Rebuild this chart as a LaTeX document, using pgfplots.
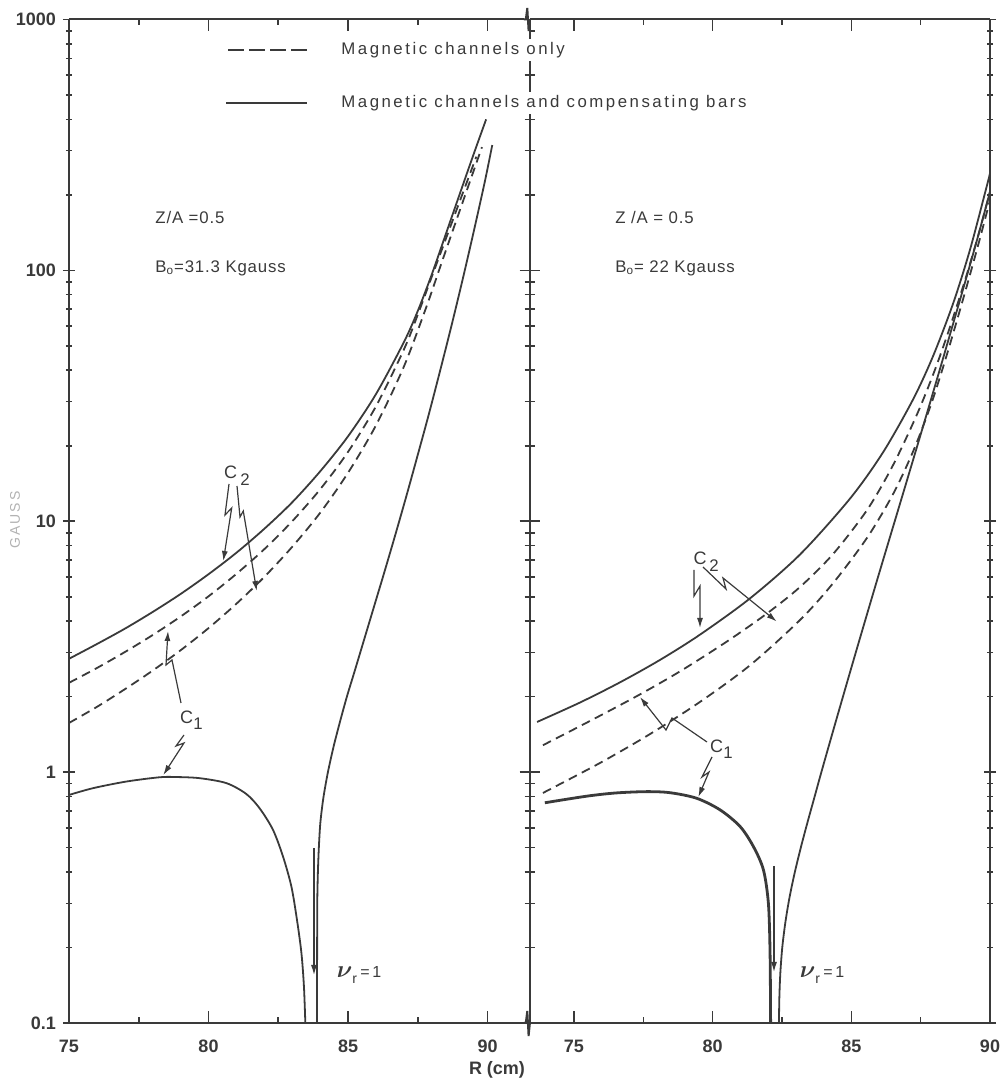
\documentclass[border=0pt]{standalone}
\usepackage{fontspec}
\setmainfont{Liberation Sans}
\newfontfamily\lsp[LetterSpace=15]{Liberation Sans}
\newfontfamily\lspb[LetterSpace=5]{Liberation Sans}
\usepackage{amsmath}
\usepackage{pgfplots}
\pgfplotsset{compat=1.18}
\usetikzlibrary{arrows.meta}
\definecolor{ink}{HTML}{3A3A3A}
\pgfkeys{/pgf/number format/assume math mode=true}

\pgfplotsset{
 every axis/.append style={
  scale only axis, anchor=south west, height=501.75pt,
  ymode=log, ymin=0.1, ymax=1000,
  tick align=inside, major tick length=6pt, minor tick length=3pt,
  axis line style={draw=ink, line width=1pt},
  xtick={75,80,85,90}, minor xtick={77.5,82.5,87.5},
  ytick={0.1,1,10,100,1000},
  minor ytick={0.2,0.3,0.4,0.5,0.6,0.7,0.8,0.9,2,3,4,5,6,7,8,9,20,30,40,50,60,70,80,90,200,300,400,500,600,700,800,900},
  tick label style={font=\fontsize{9}{10}\selectfont\bfseries, text=ink},
  xticklabel style={yshift=-5pt},
  tick style={draw=ink, line width=0.8pt},
 },
 mycurve/.style={draw=ink, line width=0.9pt, smooth, tension=0.5, mark=none},
 mydcurve/.style={mycurve, dash pattern=on 4.5pt off 2.8pt},
}

\begin{document}
\begin{tikzpicture}
\path[use as bounding box] (0,0) rectangle (502pt,544pt);

% ---------------- left panel: B0 = 31.3 kG
\begin{axis}[at={(34.5pt,32.5pt)}, width=227.4pt,
  xmin=75, xmax=91.3, axis x line=box, axis y line=left,
  axis line style={-},
  yticklabels={0.1,1,10,100,1000}]
% C2, channels and compensating bars (solid)
\addplot[mycurve] coordinates {(75,2.83)(76,3.24)(77,3.73)(78,4.35)(79,5.13)(80,6.15)(81,7.49)(82,9.33)(83,11.9)(84,15.8)(85,21.8)(86,32.1)(87,51.7)(87.5,68.9)(88,96.2)(88.5,139)(89,201)(89.5,290)(89.95,400)};
% channels only (dashed)
\addplot[mydcurve] coordinates {(75,2.27)(76,2.60)(77,3.01)(78,3.52)(79,4.17)(80,5.02)(81,6.17)(82,7.74)(83,10.0)(84,13.4)(85,18.9)(86,28.7)(87,48.3)(87.5,66.6)(88,94.2)(88.5,133)(89,188)(89.6,284)};
\addplot[mydcurve] coordinates {(75,1.57)(76,1.82)(77,2.14)(78,2.54)(79,3.06)(80,3.75)(81,4.69)(82,6.00)(83,7.91)(84,10.8)(85,15.6)(86,24.1)(87,41.3)(87.8,71.1)(88.3,103)(88.8,149)(89.3,215)(89.8,310)};
% steep solid curve
\addplot[mycurve] coordinates {(83.89,0.1)(83.891,0.158)(83.895,0.251)(83.90,0.316)(83.92,0.398)(83.955,0.501)(84.01,0.631)(84.12,0.794)(84.28,1.0)(84.48,1.26)(84.71,1.585)(84.96,2.0)(85.23,2.51)(85.5,3.16)(85.77,3.98)(86.04,5.01)(86.31,6.31)(86.7,8.87)(87.1,12.7)(87.5,18.4)(87.9,26.8)(88.3,39.8)(88.7,59.7)(89.1,91.2)(89.5,142)(89.9,225)(90.17,316)};
% C1 with compensating bars
\addplot[mycurve] coordinates {(75,0.811)(75.86,0.863)(77.05,0.917)(78.25,0.954)(78.85,0.956)(79.68,0.946)(80.64,0.904)(81.35,0.819)(81.83,0.718)(82.31,0.589)(82.67,0.461)(82.97,0.35)(83.17,0.258)(83.33,0.19)(83.42,0.14)(83.47,0.1)};
\end{axis}

% ---------------- right panel: B0 = 22 kG
\begin{axis}[at={(264.8pt,32.5pt)}, width=230.2pt,
  xmin=73.4, xmax=90, axis x line=box, axis y line=right,
  axis line style={-},
  yticklabels={}]
\addplot[mycurve] coordinates {(73.67,1.585)(75.22,1.895)(76.66,2.28)(78.10,2.80)(79.54,3.53)(81.35,4.93)(83.15,7.37)(84.95,12.3)(86.14,18.8)(87.22,30.5)(87.95,45.6)(88.67,73.8)(89.28,121)(89.89,218)(90,244)};
\addplot[mydcurve] coordinates {(73.88,1.28)(75.58,1.60)(77.27,2.01)(78.82,2.52)(80.52,3.32)(81.96,4.29)(83.15,5.47)(84.34,7.40)(85.57,11.1)(86.5,16.7)(87.37,26.7)(88.02,40.3)(88.56,59.6)(89.1,91.4)(89.57,137)(90,206)};
\addplot[mydcurve] coordinates {(73.88,0.826)(75.94,1.088)(77.74,1.418)(79.54,1.904)(81.35,2.668)(83.15,4.04)(84.34,5.66)(85.57,8.60)(86.5,12.8)(87.22,18.9)(87.84,28.5)(88.31,41.2)(88.74,59.5)(89.17,87.1)(89.61,130.6)(90,190.5)};
\addplot[mycurve] coordinates {(82.39,0.1)(82.405,0.126)(82.44,0.158)(82.51,0.2)(82.62,0.251)(82.77,0.316)(82.96,0.398)(83.18,0.501)(83.42,0.631)(83.67,0.794)(83.92,1.0)(84.41,1.55)(85.13,2.92)(85.92,5.78)(86.76,11.8)(87.48,21.8)(88.2,40.6)(88.92,76.4)(89.53,132)(90,206)};
\addplot[mycurve, line width=1.4pt] coordinates {(73.95,0.755)(75.46,0.802)(76.51,0.826)(77.62,0.836)(78.46,0.828)(79.42,0.787)(80.27,0.707)(80.99,0.607)(81.47,0.505)(81.83,0.408)(82.01,0.30)(82.07,0.19)(82.09,0.1)};
\end{axis}

% ---------------- left line of the right panel, ticks across it
\begin{axis}[at={(264.8pt,32.5pt)}, width=230.2pt,
  xmin=73.4, xmax=90, hide x axis, axis y line=left,
  axis line style={-},
  yticklabels={}, tick align=center, major tick length=10pt, minor tick length=5pt]
\end{axis}

% ---------------- annotations (pixel coordinates of the reference)
\begin{scope}[x=0.5pt, y=-0.5pt, shift={(0pt,544pt)}, every node/.style={text=ink}]
 \fill[white] (524.3,5) rectangle (529.2,34);
 \fill[white] (524.3,1009) rectangle (529.2,1038);
 \draw[ink, line width=1pt] (523.8,19.5) -- (525.8,19.5) -- (527.3,8) -- (528.6,31) -- (529.9,19.5);
 \draw[ink, line width=1pt] (523.8,1023) -- (525.8,1023) -- (527.3,1011) -- (528.6,1036) -- (529.9,1023);

 \draw[ink, line width=0.9pt, dash pattern=on 8pt off 2.5pt] (228,50) -- (310,50);
 \draw[ink, line width=0.9pt] (226,103) -- (307,103);
 \node[anchor=west, fill=white, inner sep=1.5pt, font=\lsp\fontsize{8.4}{10}\selectfont] at (338,50) {Magnetic channels only};
 \node[anchor=west, fill=white, inner sep=1.5pt, font=\lsp\fontsize{8.4}{10}\selectfont] at (338,103) {Magnetic channels and compensating bars};

 \node[anchor=west, inner sep=0pt, font=\lspb\fontsize{8.4}{10}\selectfont] at (155,218) {Z/A =0.5};
 \node[anchor=west, inner sep=0pt, font=\lspb\fontsize{8.4}{10}\selectfont] at (155,268) {B\textsubscript{o}=31.3 Kgauss};
 \node[anchor=west, inner sep=0pt, font=\lspb\fontsize{8.4}{10}\selectfont] at (615,218) {Z /A = 0.5};
 \node[anchor=west, inner sep=0pt, font=\lspb\fontsize{8.4}{10}\selectfont] at (615,268) {B\textsubscript{o}= 22 Kgauss};

 \node[font=\fontsize{9}{10}\selectfont] at (230.7,472) {C};
 \node[font=\fontsize{8.4}{10}\selectfont] at (245,480) {2};
 \node[font=\fontsize{9}{10}\selectfont] at (186.7,717) {C};
 \node[font=\fontsize{8.4}{10}\selectfont] at (198,724) {1};
 \node[font=\fontsize{9}{10}\selectfont] at (700,558) {C};
 \node[font=\fontsize{8.4}{10}\selectfont] at (714,566) {2};
 \node[font=\fontsize{9}{10}\selectfont] at (716.7,746) {C};
 \node[font=\fontsize{8.4}{10}\selectfont] at (728,753) {1};

 \tikzset{ann/.style={draw=ink, line width=0.6pt, -{Latex[length=5pt,width=3pt]}}}
 \draw[ann] (229,484) -- (225,515) -- (231.7,508) -- (223.3,561);
 \draw[ann] (237,486) -- (240,517) -- (243.3,511) -- (256.7,591);
 \draw[ann] (181,703) -- (172,660) -- (166,665) -- (168,631);
 \draw[ann] (184,735) -- (176,746) -- (184,743) -- (163.3,775);
 \draw[ann] (694,570) -- (694,596) -- (700,586) -- (700,628);
 \draw[ann] (703,567) -- (726,589) -- (723,578) -- (776.7,621.5);
 \draw[ann] (707,742) -- (672,718) -- (666,730) -- (640,697);
 \draw[ann] (712,757) -- (702,777) -- (709,772) -- (698.3,797);

 \draw[ann] (314,848) -- (314,975);
 \draw[ann] (774,866) -- (774,972);
 \node at (359,975) {{\fontsize{13}{13}\selectfont$\boldsymbol{\nu}$}\raisebox{-0.6ex}{\fontsize{7}{7}\selectfont r}\,{\fontsize{8}{8}\selectfont =\,1}};
 \node at (822,975) {{\fontsize{13}{13}\selectfont$\boldsymbol{\nu}$}\raisebox{-0.6ex}{\fontsize{7}{7}\selectfont r}\,{\fontsize{8}{8}\selectfont =\,1}};

 \node[font=\fontsize{9}{10}\selectfont\bfseries] at (497,1070) {R (cm)};
 \node[rotate=90, text=gray!60, font=\lsp\fontsize{7}{8}\selectfont] at (15,520) {GAUSS};
\end{scope}
\end{tikzpicture}
\end{document}
